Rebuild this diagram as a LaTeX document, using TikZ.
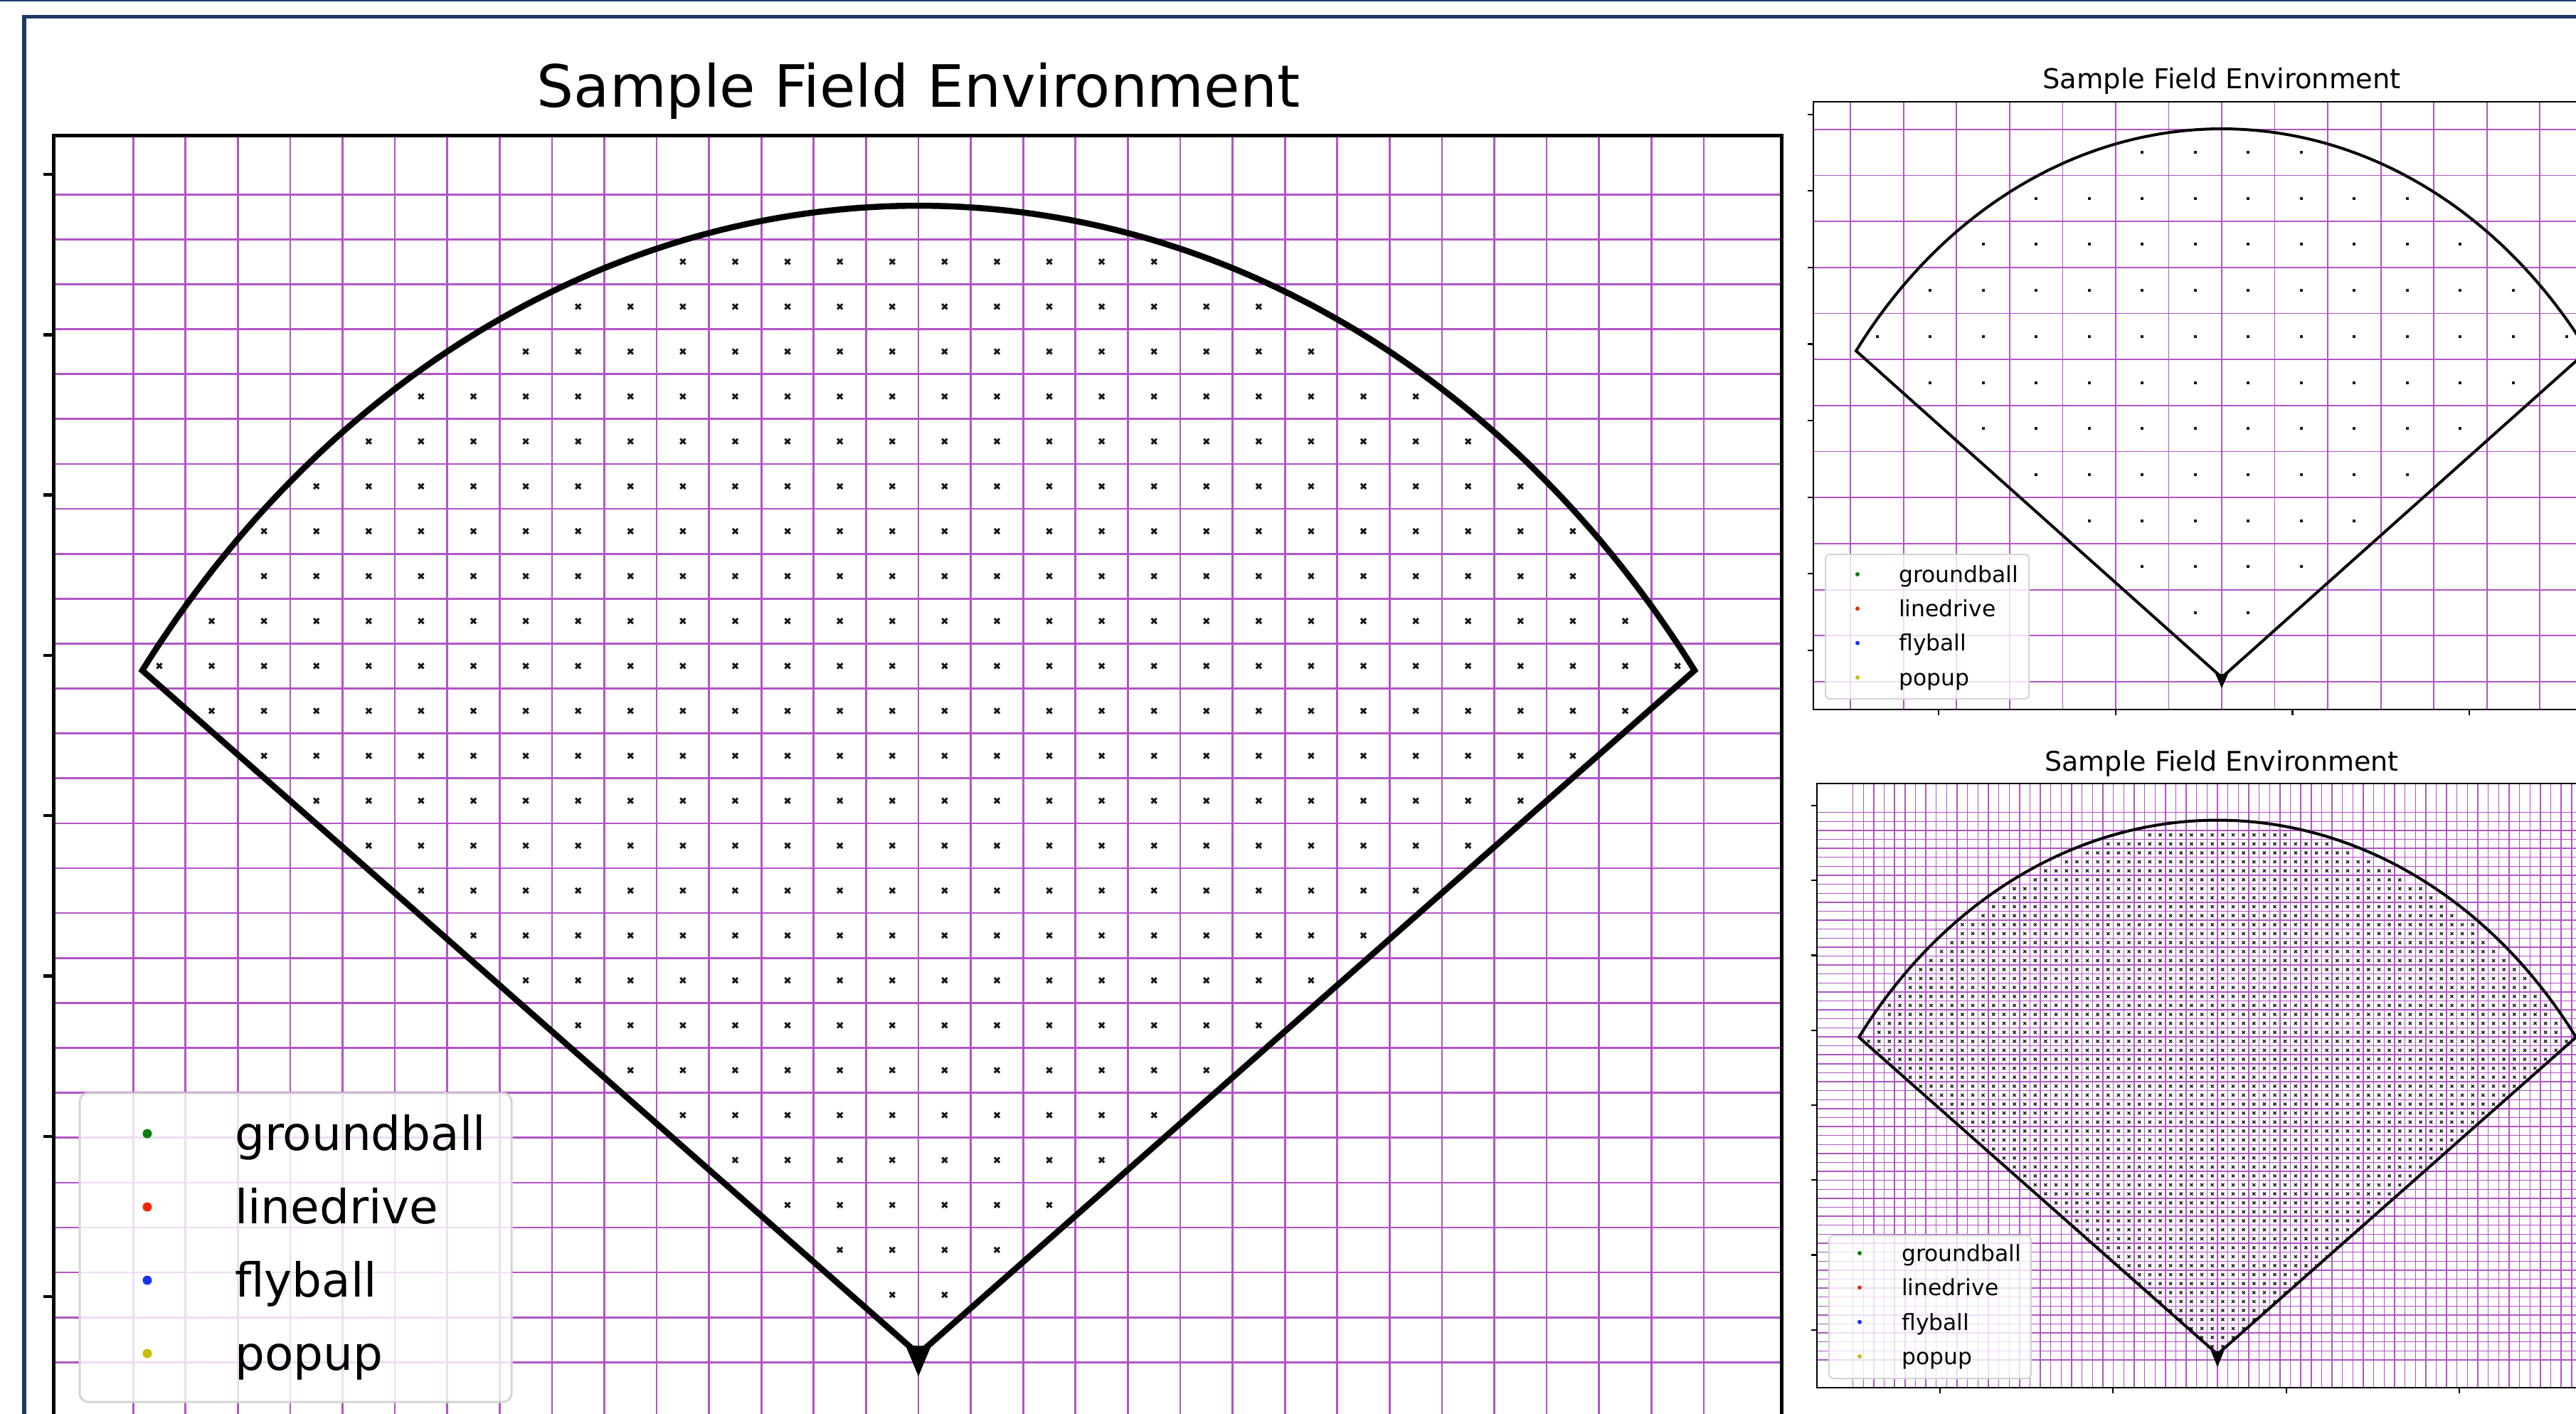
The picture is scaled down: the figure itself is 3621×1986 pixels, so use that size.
\documentclass[tikz,border=0pt]{standalone}
\usepackage{fontspec}
\setmainfont{DejaVu Sans}
\definecolor{navy}{RGB}{31,56,100}
\definecolor{gridc}{RGB}{178,84,198}
\definecolor{legedge}{RGB}{212,212,212}
\definecolor{mgreen}{RGB}{0,128,0}
\definecolor{mred}{RGB}{240,40,10}
\definecolor{mblue}{RGB}{20,50,250}
\definecolor{myellow}{RGB}{200,190,0}
\definecolor{dotc}{RGB}{25,25,25}
\tikzset{
  gridline/.style={gridc, line width=#1},
  fieldline/.style={black, line width=#1, line join=miter},
  spineline/.style={black, line width=#1},
  legendbox/.style={draw=legedge, line width=#1, fill=white, fill opacity=0.8},
  dotmain/.style={dotc, line width=3},
  dotfine/.style={dotc, line width=1.4},
}
\begin{document}
\begin{tikzpicture}[x=1pt,y=-1pt]
\useasboundingbox (0,0) rectangle (3621,1986);
\fill[white] (0,0) rectangle (3621,1986);
% outer frame
\draw[navy, line width=1.6] (0,0.8) -- (3621,0.8);
\draw[navy, line width=5.5] (34,2100) -- (34,23.7) -- (3700,23.7);

% ================= main plot =================
\begin{scope}
\clip (75,190) rectangle (2504,2200);
\foreach \k in {-15,...,15} \draw[gridline=2.7] ({1291+\k*73.59},190) -- ({1291+\k*73.59},2200);
\foreach \i in {0,...,26} \draw[gridline=2.7] (75,{273.2+\i*63.12}) -- (2504,{273.2+\i*63.12});
\end{scope}
\foreach \n [count=\j] in {5,7,8,10,11,12,13,13,14,15,14,13,12,11,10,9,8,7,6,5,4,3,2,1} {
  \pgfmathsetmacro\yy{304.6+63.12*\j}
  \foreach \m in {1,...,\n} {
    \pgfmathsetmacro\dx{36.8+73.59*(\m-1)}
    \draw[dotmain] ({1291-\dx-3.6},{\yy-3.6}) -- ++(7.2,7.2) ++(-7.2,0) -- ++(7.2,-7.2);
    \draw[dotmain] ({1291+\dx-3.6},{\yy-3.6}) -- ++(7.2,7.2) ++(-7.2,0) -- ++(7.2,-7.2);
  }
}
\draw[fieldline=8.5] (1291,1903) -- plot[domain=216.54:323.46, samples=150] ({1291+1358*cos(\x)},{1903+1614*sin(\x)}) -- cycle;
\fill[black] (1273,1891) -- (1309,1891) -- (1291,1934) -- cycle;
% legend
\draw[legendbox=3, rounded corners=12] (112,1536) rectangle (719,1970);
\fill[mgreen] (207,1593) circle[radius=6.5];
\fill[mred] (207,1696) circle[radius=6.5];
\fill[mblue] (207,1799) circle[radius=6.5];
\fill[myellow] (207,1902) circle[radius=6.5];
\node[anchor=base west, inner sep=0, font=\fontsize{66}{70}\selectfont] (mlg1) at (330,1616.7) {groundball};
\node[anchor=base west, inner sep=0, font=\fontsize{66}{70}\selectfont] (mlg2) at (330,1719.7) {linedrive};
\node[anchor=base west, inner sep=0, font=\fontsize{66}{70}\selectfont] (mlg3) at (330,1822.7) {flyball};
\node[anchor=base west, inner sep=0, font=\fontsize{66}{70}\selectfont] (mlg4) at (330,1925.7) {popup};
% spines and ticks
\draw[spineline=5] (75,2200) -- (75,190) -- (2504,190) -- (2504,2200);
\foreach \t in {0,...,7} \draw[spineline=4.5] (61,{245+225.3*\t}) -- (75,{245+225.3*\t});
\node[anchor=base, inner sep=0, font=\fontsize{82}{90}\selectfont] (mtitle) at (1291,150) {Sample Field Environment};

% ================= top-right plot =================
\begin{scope}
\clip (2549,143) rectangle (3700,997);
\foreach \k in {-7,...,7} \draw[gridline=1.8] ({3123+\k*74.54},143) -- ({3123+\k*74.54},997);
\foreach \i in {0,...,12} \draw[gridline=1.8] (2549,{181.8+\i*64.68}) -- (3700,{181.8+\i*64.68});
\end{scope}
\foreach \n [count=\j from 0] in {2,4,5,6,7,6,5,4,3,2,1} {
  \pgfmathsetmacro\yy{214.1+64.68*\j}
  \foreach \m in {1,...,\n} {
    \pgfmathsetmacro\dx{37.27+74.54*(\m-1)}
    \fill[dotc] ({3123-\dx-2},{\yy-2}) rectangle ++(4,4);
    \fill[dotc] ({3123+\dx-2},{\yy-2}) rectangle ++(4,4);
  }
}
\draw[fieldline=4] (3123,952) -- plot[domain=216.53:323.47, samples=120] ({3123+639.7*cos(\x)},{952+771*sin(\x)}) -- cycle;
\fill[black] (3114,947) -- (3132,947) -- (3123,967) -- cycle;
\draw[legendbox=2, rounded corners=6] (2566,779) rectangle (2852,982);
\fill[mgreen] (2611,807) circle[radius=3];
\fill[mred] (2611,855.3) circle[radius=3];
\fill[mblue] (2611,903.6) circle[radius=3];
\fill[myellow] (2611,952) circle[radius=3];
\node[anchor=base west, inner sep=0, font=\fontsize{31.4}{34}\selectfont] (tlg1) at (2669,818.3) {groundball};
\node[anchor=base west, inner sep=0, font=\fontsize{31.4}{34}\selectfont] (tlg2) at (2669,866.6) {linedrive};
\node[anchor=base west, inner sep=0, font=\fontsize{31.4}{34}\selectfont] (tlg3) at (2669,914.9) {flyball};
\node[anchor=base west, inner sep=0, font=\fontsize{31.4}{34}\selectfont] (tlg4) at (2669,963.3) {popup};
\draw[spineline=2.5] (2549,143) rectangle (3700,997);
\foreach \t in {0,...,7} \draw[spineline=2.2] (2541,{160.7+107.6*\t}) -- (2549,{160.7+107.6*\t});
\foreach \t in {0,...,3} \draw[spineline=2.2] ({2725+248.7*\t},997) -- ({2725+248.7*\t},1005);
\node[anchor=base, inner sep=0, font=\fontsize{38.5}{42}\selectfont] (ttitle) at (3123,124.4) {Sample Field Environment};

% ================= bottom-right plot =================
\begin{scope}
\clip (2554,1101) rectangle (3700,1950);
\foreach \k in {-35,...,35} \draw[gridline=1.4] ({3117+\k*14.64},1101) -- ({3117+\k*14.64},1950);
\foreach \i in {0,...,61} \draw[gridline=1.4] (2554,{1141.7+\i*12.61}) -- (3700,{1141.7+\i*12.61});
\end{scope}
\foreach \i in {0,...,60} {
  \pgfmathsetmacro\yc{1141.7+12.61*(\i+0.5)}
  \pgfmathsetmacro\dy{max(1903-\yc,0)}
  \pgfmathsetmacro\vv{(\dy/750.5)^2}
  \pgfmathsetmacro\dxa{626.3*sqrt(max(0.9752-\vv,0))}
  \pgfmathsetmacro\dxf{\dy*1.131}
  \pgfmathsetmacro\dxm{min(\dxa,\dxf)}
  \pgfmathtruncatemacro\nn{\dxm>7.32 ? floor((\dxm-7.32)/14.64)+1 : 0}
  \ifnum\nn>0
    \foreach \m in {1,...,\nn} {
      \pgfmathsetmacro\dx{7.32+14.64*(\m-1)}
      \draw[dotfine] ({3117-\dx-2},{\yc-2}) -- ++(4,4) ++(-4,0) -- ++(4,-4);
      \draw[dotfine] ({3117+\dx-2},{\yc-2}) -- ++(4,4) ++(-4,0) -- ++(4,-4);
    }
  \fi
}
\draw[fieldline=4] (3117,1903) -- plot[domain=216.41:323.59, samples=120] ({3117+626.3*cos(\x)},{1903+750.5*sin(\x)}) -- cycle;
\fill[black] (3108,1899) -- (3126,1899) -- (3117,1921) -- cycle;
\draw[legendbox=2, rounded corners=6] (2571,1736) rectangle (2855,1937);
\fill[mgreen] (2614,1761) circle[radius=3];
\fill[mred] (2614,1809.3) circle[radius=3];
\fill[mblue] (2614,1857.7) circle[radius=3];
\fill[myellow] (2614,1906) circle[radius=3];
\node[anchor=base west, inner sep=0, font=\fontsize{31.4}{34}\selectfont] (blg1) at (2673,1772.3) {groundball};
\node[anchor=base west, inner sep=0, font=\fontsize{31.4}{34}\selectfont] (blg2) at (2673,1820.6) {linedrive};
\node[anchor=base west, inner sep=0, font=\fontsize{31.4}{34}\selectfont] (blg3) at (2673,1869) {flyball};
\node[anchor=base west, inner sep=0, font=\fontsize{31.4}{34}\selectfont] (blg4) at (2673,1917.3) {popup};
\draw[spineline=2.5] (2554,1101) rectangle (3700,1950);
\foreach \t in {0,...,7} \draw[spineline=2.2] (2546,{1132+105.25*\t}) -- (2554,{1132+105.25*\t});
\foreach \t in {0,...,3} \draw[spineline=2.2] ({2727+243.3*\t},1950) -- ({2727+243.3*\t},1958);
\node[anchor=base, inner sep=0, font=\fontsize{38}{42}\selectfont] (btitle) at (3123,1083) {Sample Field Environment};
\end{tikzpicture}
\end{document}
